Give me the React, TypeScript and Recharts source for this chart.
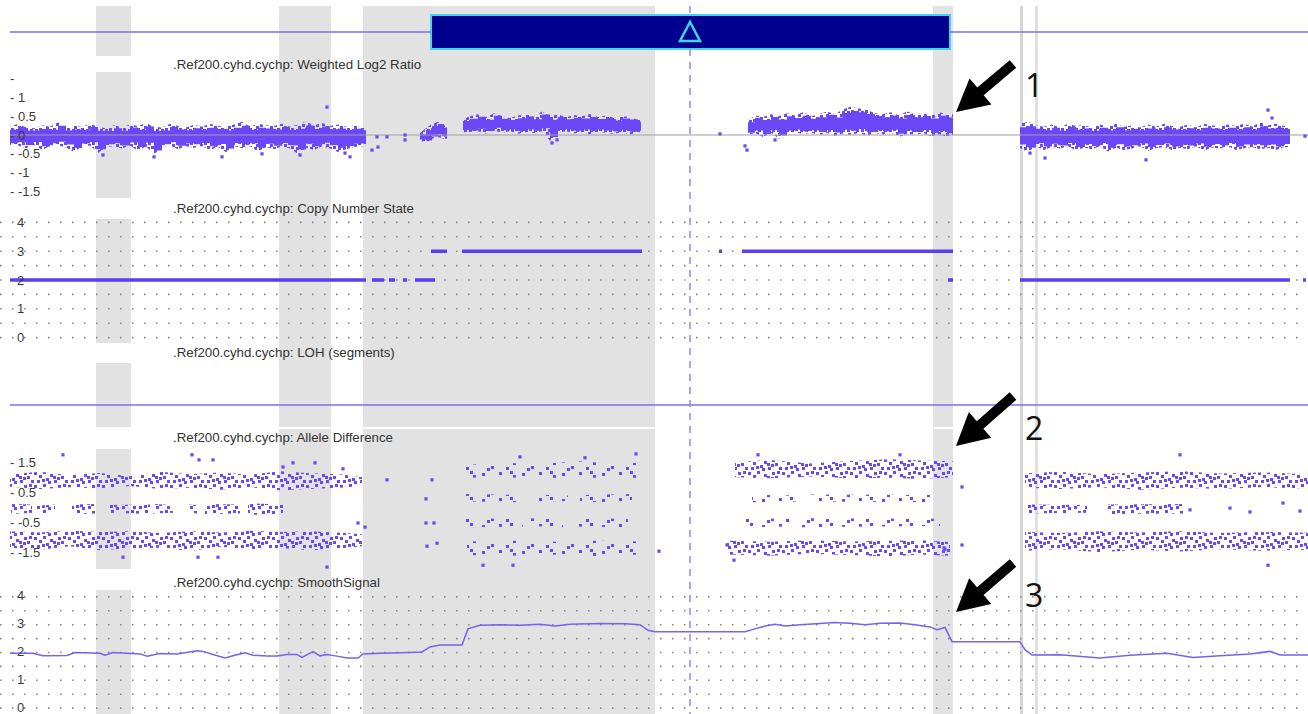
import React from 'react';
import {
  ComposedChart, Area, Line, Scatter, XAxis, YAxis,
  ReferenceArea, ReferenceLine, ReferenceDot,
} from 'recharts';

type Env = [number, number, number];
type Pt = [number, number];

const W = 1308;
const H = 714;
const DOT = '#6b48f7';
const RULE = '#7d6cf0';
const GREY = '#e2e2e2';
const FONT = '"Liberation Sans", Arial, sans-serif';

// ---------- data (genome position expressed in browser columns, 0..1308) ----------
const maskedRegions: [number, number][] = [[96, 131], [279, 331], [363, 655], [933, 953]];
const markerRegions: [number, number][] = [[1020, 1023], [1035, 1038]];
const cursorPos = 690;
const selection: [number, number] = [431, 950];

const trackNames = [
  'Weighted Log2 Ratio',
  'Copy Number State',
  'LOH (segments)',
  'Allele Difference',
  'SmoothSignal',
];

// Weighted Log2 Ratio: [pos, low, high] envelope of the point cloud
const log2Left: Env[] = [
  [10, -0.30, 0.22], [18, -0.28, 0.30], [26, -0.35, 0.20], [34, -0.25, 0.18], [42, -0.40, 0.26],
  [50, -0.30, 0.22], [58, -0.27, 0.34], [66, -0.33, 0.20], [74, -0.45, 0.25], [82, -0.30, 0.21],
  [90, -0.28, 0.30], [98, -0.48, 0.22], [106, -0.32, 0.18], [114, -0.30, 0.26], [122, -0.36, 0.20],
  [130, -0.28, 0.28], [138, -0.42, 0.24], [146, -0.30, 0.32], [154, -0.52, 0.22], [162, -0.32, 0.20],
  [170, -0.28, 0.30], [178, -0.38, 0.24], [186, -0.30, 0.20], [194, -0.34, 0.27], [202, -0.29, 0.22],
  [210, -0.40, 0.30], [218, -0.32, 0.24], [226, -0.46, 0.22], [234, -0.30, 0.28], [242, -0.35, 0.35],
  [250, -0.30, 0.22], [258, -0.44, 0.30], [266, -0.32, 0.26], [274, -0.38, 0.24], [282, -0.30, 0.30],
  [290, -0.36, 0.22], [298, -0.50, 0.28], [306, -0.34, 0.36], [314, -0.40, 0.26], [322, -0.30, 0.32],
  [330, -0.36, 0.24], [338, -0.45, 0.28], [346, -0.38, 0.22], [354, -0.32, 0.25], [362, -0.30, 0.20],
  [366, -0.30, 0.20],
];
const log2Mid: Env[] = [
  [420, -0.15, 0.05], [426, -0.20, 0.18], [432, -0.10, 0.30], [438, -0.05, 0.35], [444, -0.10, 0.25], [447, -0.10, 0.25],
];
const log2Gain1: Env[] = [
  [463, 0.08, 0.42], [470, 0.05, 0.50], [478, 0.10, 0.55], [486, 0.04, 0.47], [494, 0.12, 0.58],
  [502, 0.06, 0.50], [510, 0.10, 0.45], [518, 0.03, 0.52], [526, 0.08, 0.56], [534, 0.05, 0.48],
  [542, 0.10, 0.62], [550, -0.15, 0.50], [558, 0.06, 0.55], [566, 0.10, 0.47], [574, 0.04, 0.53],
  [582, 0.08, 0.50], [590, 0.02, 0.56], [598, 0.09, 0.48], [606, 0.05, 0.52], [614, 0.03, 0.45],
  [622, 0.07, 0.50], [630, 0.02, 0.48], [638, 0.06, 0.40], [641, 0.06, 0.40],
];
const log2Gain2: Env[] = [
  [748, 0.00, 0.40], [755, 0.05, 0.52], [763, -0.05, 0.48], [771, 0.06, 0.55], [779, -0.10, 0.50],
  [787, 0.04, 0.58], [795, 0.08, 0.52], [803, 0.02, 0.60], [811, 0.06, 0.50], [819, 0.00, 0.55],
  [827, 0.05, 0.62], [835, -0.02, 0.55], [843, 0.04, 0.68], [851, 0.00, 0.75], [859, 0.06, 0.70],
  [867, -0.02, 0.66], [875, 0.05, 0.58], [883, 0.02, 0.55], [891, 0.06, 0.60], [899, -0.05, 0.52],
  [907, 0.03, 0.62], [915, 0.00, 0.55], [923, 0.05, 0.58], [931, -0.03, 0.52], [939, 0.02, 0.60],
  [947, -0.04, 0.55], [953, -0.04, 0.55],
];
const log2Right: Env[] = [
  [1020, -0.35, 0.30], [1028, -0.45, 0.35], [1036, -0.30, 0.25], [1044, -0.40, 0.22], [1052, -0.32, 0.28],
  [1060, -0.36, 0.20], [1068, -0.30, 0.30], [1076, -0.42, 0.24], [1084, -0.33, 0.26], [1092, -0.38, 0.20],
  [1100, -0.30, 0.28], [1108, -0.44, 0.22], [1116, -0.34, 0.30], [1124, -0.40, 0.22], [1132, -0.36, 0.25],
  [1140, -0.30, 0.20], [1148, -0.42, 0.28], [1156, -0.35, 0.22], [1164, -0.32, 0.30], [1172, -0.40, 0.24],
  [1180, -0.34, 0.22], [1188, -0.38, 0.28], [1196, -0.30, 0.20], [1204, -0.42, 0.30], [1212, -0.33, 0.26],
  [1220, -0.36, 0.22], [1228, -0.30, 0.28], [1236, -0.40, 0.24], [1244, -0.35, 0.30], [1252, -0.32, 0.22],
  [1260, -0.38, 0.34], [1268, -0.34, 0.26], [1276, -0.40, 0.30], [1284, -0.32, 0.24], [1290, -0.32, 0.24],
];
const log2Outliers: Pt[] = [
  [327, 0.74], [103, -0.53], [154, -0.58], [222, -0.58], [262, -0.50], [300, -0.53], [345, -0.48],
  [350, -0.58], [372, -0.40], [377, -0.05], [387, -0.05], [378, -0.32], [405, 0.0], [405, -0.13],
  [552, -0.21], [557, -0.13], [720, 0.03], [745, -0.29], [747, -0.40], [775, -0.13], [1030, -0.48],
  [1045, -0.61], [1146, -0.66], [1268, 0.66], [1272, 0.45], [1305, -0.03],
];
const log2Ticks = [1.5, 1, 0.5, 0, -0.5, -1, -1.5];

// Copy Number State: [start, end, state]
const cnSegments: Env[] = [
  [10, 366, 2], [372, 384, 2], [389, 395, 2], [403, 407, 2], [415, 435, 2],
  [431, 447, 3], [462, 642, 3], [719, 722, 3], [742, 953, 3], [948, 953, 2],
  [1020, 1290, 2], [1303, 1306, 2],
];
const stateTicks = [0, 0.5, 1, 1.5, 2, 2.5, 3, 3.5, 4];

// Allele Difference: clusters as [pos, low, high]
const alleleDense: Env[][] = [
  [[10, 0.70, 1.12], [40, 0.62, 1.20], [70, 0.68, 1.08], [100, 0.64, 1.16], [130, 0.72, 1.05], [160, 0.62, 1.20],
   [190, 0.66, 1.12], [220, 0.60, 1.18], [250, 0.68, 1.10], [280, 0.58, 1.22], [310, 0.62, 1.15], [340, 0.66, 1.12], [362, 0.72, 1.02]],
  [[11, -0.22, 0.12], [32, -0.18, 0.10]],
  [[37, -0.20, 0.06], [55, -0.16, 0.10]],
  [[72, -0.22, 0.10], [95, -0.20, 0.12]],
  [[108, -0.18, 0.08], [150, -0.22, 0.10]],
  [[153, -0.20, 0.12], [173, -0.18, 0.08]],
  [[187, -0.16, 0.10], [197, -0.20, 0.08]],
  [[205, -0.22, 0.12], [240, -0.20, 0.10]],
  [[248, -0.25, 0.14], [283, -0.22, 0.10]],
  [[10, -1.35, -0.80], [40, -1.42, -0.84], [70, -1.30, -0.78], [100, -1.44, -0.82], [130, -1.38, -0.80], [160, -1.35, -0.86],
   [190, -1.46, -0.80], [220, -1.32, -0.84], [250, -1.40, -0.78], [280, -1.36, -0.82], [310, -1.44, -0.80], [340, -1.38, -0.85], [362, -1.30, -0.90]],
  [[735, 1.02, 1.52], [770, 0.98, 1.60], [810, 1.04, 1.48], [850, 0.98, 1.56], [890, 1.00, 1.62], [920, 0.96, 1.58], [953, 1.02, 1.55]],
  [[727, -1.58, -1.12], [770, -1.62, -1.15], [810, -1.55, -1.10], [850, -1.60, -1.14], [890, -1.65, -1.12], [920, -1.58, -1.10], [950, -1.62, -1.16]],
  [[1025, 0.66, 1.15], [1060, 0.62, 1.20], [1100, 0.68, 1.12], [1140, 0.60, 1.18], [1180, 0.66, 1.22], [1220, 0.62, 1.14], [1260, 0.68, 1.18], [1308, 0.64, 1.12]],
  [[1028, -0.20, 0.10], [1087, -0.18, 0.08]],
  [[1108, -0.22, 0.10], [1183, -0.20, 0.12]],
  [[1025, -1.45, -0.82], [1060, -1.40, -0.86], [1100, -1.50, -0.80], [1140, -1.42, -0.84], [1180, -1.48, -0.80], [1220, -1.40, -0.86], [1260, -1.45, -0.82], [1308, -1.42, -0.85]],
];
const alleleSparse: Env[][] = [
  [[463, 1.00, 1.42], [500, 1.02, 1.50], [540, 0.98, 1.46], [580, 1.02, 1.55], [610, 0.98, 1.48], [641, 1.00, 1.50]],
  [[465, 0.20, 0.45], [522, 0.18, 0.42]],
  [[535, 0.20, 0.44], [568, 0.22, 0.40]],
  [[580, 0.18, 0.42], [632, 0.20, 0.45]],
  [[462, -0.66, -0.36], [523, -0.64, -0.38]],
  [[530, -0.62, -0.36], [563, -0.66, -0.40]],
  [[575, -0.64, -0.36], [628, -0.66, -0.38]],
  [[467, -1.60, -1.14], [510, -1.62, -1.12], [560, -1.58, -1.15], [600, -1.64, -1.12], [640, -1.58, -1.14]],
  [[752, 0.18, 0.42], [800, 0.20, 0.40]],
  [[810, 0.20, 0.44], [935, 0.18, 0.42]],
  [[745, -0.66, -0.36], [790, -0.64, -0.38]],
  [[800, -0.66, -0.36], [940, -0.62, -0.38]],
];
const alleleOutliers: Pt[] = [
  [63, 1.77], [192, 1.77], [199, 1.6], [213, 1.6], [283, 1.36], [293, 1.5], [315, 1.5], [343, 1.30],
  [387, 0.93], [432, 0.93], [426, 0.29], [426, -0.52], [434, -0.52], [358, -0.52], [365, -0.66],
  [427, -1.30], [437, -1.20], [123, -1.67], [198, -1.67], [218, -1.67], [327, -2.0],
  [520, 1.70], [585, 1.67], [636, 1.80], [483, -1.94], [513, -1.94], [659, -1.47],
  [758, 1.77], [900, 1.77], [962, 0.69], [962, -1.26], [945, -1.40], [944, -1.36], [727, -1.26], [734, -1.77],
  [1180, 1.77], [1268, -1.94], [1190, -0.08], [1230, -0.02], [1250, -0.15], [1283, 0.15], [1300, -0.12],
];
const alleleTicks = [1.5, 0.5, -0.5, -1.5];

// SmoothSignal: [pos, value]
const smoothSignal: Pt[] = [
  [10, 1.97], [33, 1.97], [43, 1.88], [67, 1.89], [75, 2.0], [100, 1.97], [105, 1.9], [113, 2.0],
  [127, 1.97], [140, 1.95], [147, 1.87], [160, 1.96], [177, 1.95], [197, 2.06], [203, 2.04], [213, 1.93],
  [225, 1.8], [233, 1.88], [245, 1.99], [253, 1.9], [267, 1.87], [277, 1.87], [287, 1.93], [297, 1.93],
  [302, 1.82], [313, 2.03], [320, 1.88], [327, 1.93], [337, 1.87], [347, 1.8], [358, 1.8], [363, 1.95],
  [380, 1.97], [410, 2.0], [422, 2.02], [430, 2.2], [440, 2.27], [462, 2.27], [468, 2.85], [480, 2.98],
  [500, 3.0], [520, 2.98], [540, 3.02], [555, 2.95], [570, 3.02], [600, 3.04], [625, 3.03], [640, 3.0],
  [648, 2.8], [655, 2.75], [745, 2.75], [755, 2.85], [765, 2.95], [775, 3.02], [785, 2.95], [800, 3.0],
  [820, 3.04], [835, 3.08], [850, 3.05], [865, 3.0], [880, 3.05], [900, 3.06], [915, 3.0], [930, 2.92],
  [937, 2.82], [945, 2.9], [952, 2.39], [1020, 2.39], [1025, 2.1], [1032, 1.91], [1060, 1.92], [1100, 1.8],
  [1130, 1.9], [1167, 1.97], [1193, 1.82], [1220, 1.88], [1250, 1.95], [1270, 2.04], [1280, 1.91], [1308, 1.91],
];

// ---------- layout ----------
const BAND_A_SPANS = [[6, 56], [72, 198], [219, 343], [363, 427], [449, 569], [590, 714]];
const BAND_SPANS = [[6, 427], [429, 714]];
const TITLE_Y = [69, 213, 357, 442, 587];
const ARROWS = [
  { tail: [1013, 64], tip: [956, 112], label: '1', ly: 97 },
  { tail: [1013, 396], tip: [956, 446], label: '2', ly: 440 },
  { tail: [1013, 563], tip: [956, 612], label: '3', ly: 607 },
];
const DENSE_DOTS = [
  [0, 1], [5, 4], [9, 0], [12, 7], [16, 3], [20, 9], [24, 1], [27, 5], [31, 9], [3, 9],
  [8, 8], [19, 5], [29, 0], [14, 10], [23, 6],
];
const SPARSE_DOTS = [[2, 2], [11, 8], [19, 1], [26, 9], [33, 4], [7, 10], [30, 0]];
const SPECKLE_DOTS = [[0, 0], [4, 3], [8, 1], [11, 5], [2, 6], [7, 6]];
const MARGIN = { top: 0, right: 0, bottom: 0, left: 0 };

const env = (rows: Env[]) => rows.map(([x, lo, hi]) => ({ x, range: [lo, hi] }));
// dense core of a point cloud: the middle part of each envelope
const core = (rows: Env[]) =>
  rows.map(([x, lo, hi]) => {
    const m = (lo + hi) / 2;
    const h = ((hi - lo) / 2) * 0.7;
    return { x, range: [m - h, m + h] };
  });
const pts = (rows: Pt[]) => rows.map(([x, y]) => ({ x, y }));
const segs = (rows: Env[]) =>
  rows.flatMap(([a, b, v]) => [{ x: a, y: v }, { x: b, y: v }, { x: b, y: null }]);

const Square = (p: any) => (
  <rect x={p.cx - 1.6} y={p.cy - 1.6} width={3.2} height={3.2} fill={DOT} />
);

const tickText = (x: number, fmt: (v: number) => string, dy = 4.5) => (p: any) => (
  <text x={x} y={p.y} dy={dy} fontSize={13} fill="#3a3a3a" fontFamily={FONT} textAnchor="start">
    {fmt(p.payload.value)}
  </text>
);
const intLabel = (v: number) => (Number.isInteger(v) ? String(v) : '');

function Track({ top, height, domain, ticks, tick, grid, children }: any) {
  const box = { position: 'absolute' as const, left: 0, top: 0 };
  return (
    <div style={{ position: 'absolute', left: 0, top, width: W, height }}>
      {grid && (
        <div style={box}>
          {/* dotted guide rows behind the data */}
          <ComposedChart width={W} height={height} margin={MARGIN}>
            <XAxis type="number" dataKey="x" domain={[0, W]} hide allowDataOverflow />
            <YAxis type="number" dataKey="y" domain={domain} hide allowDataOverflow />
            {ticks.map((v: number) => (
              <ReferenceLine key={v} y={v} stroke="#8c8c8c" strokeWidth={1.6} strokeDasharray="1.6 10.4" />
            ))}
          </ComposedChart>
        </div>
      )}
      <div style={box}>
        <ComposedChart width={W} height={height} margin={MARGIN}>
          <XAxis type="number" dataKey="x" domain={[0, W]} hide allowDataOverflow />
          <YAxis
            type="number" dataKey="y" domain={domain} ticks={ticks} interval={0} width={40} mirror
            axisLine={false} tickLine={false} tick={tick} allowDataOverflow
          />
          {children}
        </ComposedChart>
      </div>
    </div>
  );
}

function Backdrop() {
  return (
    <ComposedChart width={W} height={H} margin={MARGIN}>
      <XAxis type="number" dataKey="x" domain={[0, W]} hide allowDataOverflow />
      <YAxis type="number" dataKey="y" domain={[0, H]} reversed hide allowDataOverflow />
      {maskedRegions.flatMap(([a, b], i) =>
        (i === 0 ? BAND_A_SPANS : BAND_SPANS).map(([y1, y2], j) => (
          <ReferenceArea key={`m${i}-${j}`} x1={a} x2={b} y1={y1} y2={y2} fill={GREY} fillOpacity={1} stroke="none" />
        )),
      )}
      {markerRegions.map(([a, b], i) => (
        <ReferenceArea key={`k${i}`} x1={a} x2={b} y1={6} y2={H} fill={i === 0 ? '#d6d6d6' : '#e0e0e0'} fillOpacity={1} stroke="none" />
      ))}
      <ReferenceLine segment={[{ x: 10, y: 32 }, { x: selection[0], y: 32 }]} stroke={RULE} strokeWidth={1.5} />
      <ReferenceLine segment={[{ x: selection[1], y: 32 }, { x: W, y: 32 }]} stroke={RULE} strokeWidth={1.5} />
      <ReferenceLine segment={[{ x: 10, y: 405 }, { x: W, y: 405 }]} stroke={RULE} strokeWidth={1.5} />
      <ReferenceLine segment={[{ x: cursorPos, y: 6 }, { x: cursorPos, y: 15 }]} stroke="#8c8cf2" strokeWidth={1.5} strokeDasharray="7 6" />
      <ReferenceLine segment={[{ x: cursorPos, y: 49 }, { x: cursorPos, y: H }]} stroke="#8c8cf2" strokeWidth={1.5} strokeDasharray="7 6" />
      <ReferenceArea x1={selection[0]} x2={selection[1]} y1={15} y2={49} fill="#00008e" fillOpacity={1} stroke="#3cd8f0" strokeWidth={2} />
      <ReferenceDot
        x={cursorPos} y={32}
        shape={(p: any) => (
          <polygon
            points={`${p.cx},${p.cy - 10} ${p.cx - 10},${p.cy + 9} ${p.cx + 10},${p.cy + 9}`}
            fill="none" stroke="#3ad6f2" strokeWidth={2.5}
          />
        )}
      />
    </ComposedChart>
  );
}

function arrowPath(tail: number[], tip: number[]) {
  const dx = tip[0] - tail[0];
  const dy = tip[1] - tail[1];
  const len = Math.hypot(dx, dy);
  const ux = dx / len, uy = dy / len;
  const nx = -uy, ny = ux;
  const head = 32, hw = 17, sw = 5;
  const bx = tip[0] - ux * head, by = tip[1] - uy * head;
  const p = [
    [tail[0] + nx * sw, tail[1] + ny * sw], [bx + nx * sw, by + ny * sw], [bx + nx * hw, by + ny * hw],
    tip, [bx - nx * hw, by - ny * hw], [bx - nx * sw, by - ny * sw], [tail[0] - nx * sw, tail[1] - ny * sw],
  ];
  return p.map((q) => q.join(',')).join(' ');
}

export default function App() {
  const log2Clouds = [log2Left, log2Mid, log2Gain1, log2Gain2, log2Right];
  return (
    <div style={{ position: 'absolute', left: 0, top: 0, width: W, height: H, background: '#fff', overflow: 'hidden' }}>
      <svg width={0} height={0} style={{ position: 'absolute' }}>
        <defs>
          <pattern id="alleleDense" width={34} height={13} patternUnits="userSpaceOnUse">
            {DENSE_DOTS.map(([x, y], i) => <rect key={i} x={x} y={y} width={3} height={3} fill={DOT} />)}
          </pattern>
          <pattern id="alleleSparse" width={40} height={13} patternUnits="userSpaceOnUse">
            {SPARSE_DOTS.map(([x, y], i) => <rect key={i} x={x} y={y} width={3} height={3} fill={DOT} />)}
          </pattern>
          <pattern id="log2Speckle" width={14} height={9} patternUnits="userSpaceOnUse">
            {SPECKLE_DOTS.map(([x, y], i) => <rect key={i} x={x} y={y} width={3} height={3} fill={DOT} />)}
          </pattern>
        </defs>
      </svg>

      <div style={{ position: 'absolute', left: 0, top: 0 }}>
        <Backdrop />
      </div>

      {/* Weighted Log2 Ratio */}
      <Track top={69} height={132} domain={[-1.75, 1.75]} ticks={log2Ticks}
        tick={tickText(10, (v) => (v === 1.5 ? '-' : `- ${v}`))}>
        <ReferenceLine segment={[{ x: 10, y: 0 }, { x: W, y: 0 }]} stroke="#a0a0a0" strokeWidth={1.2} />
        {log2Clouds.map((rows, i) => (
          <Area key={`o${i}`} data={env(rows)} dataKey="range" type="linear" stroke="none"
            fill="url(#log2Speckle)" fillOpacity={1} dot={false} activeDot={false} isAnimationActive={false} />
        ))}
        {log2Clouds.map((rows, i) => (
          <Area key={`c${i}`} data={core(rows)} dataKey="range" type="stepAfter" stroke="none"
            fill={DOT} fillOpacity={1} dot={false} activeDot={false} isAnimationActive={false} />
        ))}
        <Scatter data={pts(log2Outliers)} dataKey="y" shape={Square} isAnimationActive={false} />
      </Track>

      {/* Copy Number State */}
      <Track top={208} height={144} domain={[-0.5, 4.5]} ticks={stateTicks} grid tick={tickText(17, intLabel)}>
        <Line data={segs(cnSegments)} dataKey="y" stroke="#5a3cf2" strokeWidth={3.5} dot={false}
          activeDot={false} connectNulls={false} isAnimationActive={false} />
      </Track>

      {/* Allele Difference */}
      <Track top={445} height={125} domain={[-2.1, 2.1]} ticks={alleleTicks}
        tick={tickText(10, (v) => `- ${v}`)}>
        {alleleDense.map((rows, i) => (
          <Area key={`d${i}`} data={env(rows)} dataKey="range" type="linear" stroke="none"
            fill="url(#alleleDense)" fillOpacity={1} dot={false} activeDot={false} isAnimationActive={false} />
        ))}
        {alleleSparse.map((rows, i) => (
          <Area key={`s${i}`} data={env(rows)} dataKey="range" type="linear" stroke="none"
            fill="url(#alleleSparse)" fillOpacity={1} dot={false} activeDot={false} isAnimationActive={false} />
        ))}
        <Scatter data={pts(alleleOutliers)} dataKey="y" shape={Square} isAnimationActive={false} />
      </Track>

      {/* SmoothSignal */}
      <Track top={583} height={139} domain={[-0.5, 4.5]} ticks={stateTicks} grid tick={tickText(17, intLabel, 3.5)}>
        <Line data={pts(smoothSignal)} dataKey="y" stroke="#7a5ff0" strokeWidth={1.5} dot={false}
          activeDot={false} isAnimationActive={false} />
      </Track>

      <svg width={W} height={H} style={{ position: 'absolute', left: 0, top: 0, pointerEvents: 'none' }}>
        {trackNames.map((name, i) => (
          <text key={name} x={173} y={TITLE_Y[i]} fontSize={13.3} fill="#333" fontFamily={FONT}>
            {`.Ref200.cyhd.cychp: ${name}`}
          </text>
        ))}
        {ARROWS.map((a) => (
          <g key={a.label}>
            <polygon points={arrowPath(a.tail, a.tip)} fill="#000" />
            <text x={1025} y={a.ly} fontSize={32} fill="#111" fontFamily='"Open Sans", sans-serif'>{a.label}</text>
          </g>
        ))}
      </svg>
    </div>
  );
}
